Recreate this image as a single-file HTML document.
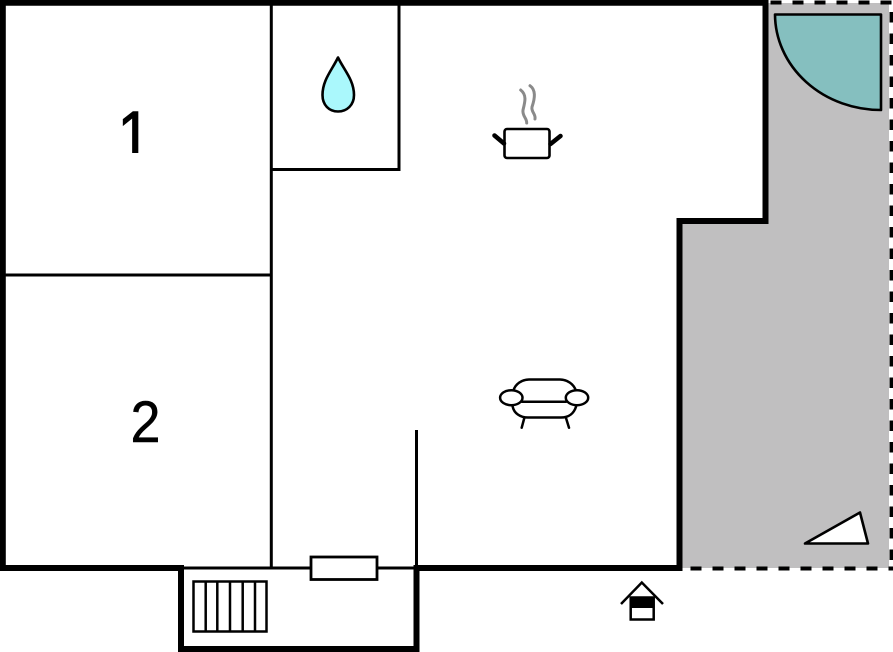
<!DOCTYPE html>
<html>
<head>
<meta charset="utf-8">
<style>
html,body{margin:0;padding:0;background:#fff}
svg{display:block}
</style>
</head>
<body>
<svg width="893" height="652" viewBox="0 0 893 652" xmlns="http://www.w3.org/2000/svg">
  <defs>
    <clipPath id="footclip"><rect x="100" y="100" width="60" height="53"/></clipPath>
  </defs>
  <rect width="893" height="652" fill="#fff"/>
  <!-- terrace -->
  <polygon points="767,3 889,3 889,568 681,568 681,222 767,222" fill="#c0bfc0"/>
  <!-- dashed edge -->
  <g fill="none" stroke="#000">
    <path d="M770.500,2.500H893" stroke-dasharray="11 11" stroke-width="4"/>
    <path d="M891.500,12V569" stroke-dasharray="10.500 11" stroke-width="4"/>
    <path d="M690.500,568.500H893" stroke-dasharray="11 11" stroke-width="4"/>
  </g>
  <!-- door quarter-circle -->
  <path d="M775,14.500H881V110A106,96 0 0 1 775,14.500Z" fill="#85bfbf" stroke="#000" stroke-width="2.600" stroke-linejoin="round"/>
  <!-- inner walls -->
  <g fill="none" stroke="#000" stroke-width="3">
    <path d="M271.300,3V568"/>
    <path d="M3,275H271"/>
    <path d="M399,3V169.500H271"/>
    <path d="M416.500,430V568"/>
    <path d="M181,568H416"/>
  </g>
  <!-- outer walls -->
  <path d="M2.800,2.800H765.500V221H679.500V568H416.500V649H181V568H2.800Z" fill="none" stroke="#000" stroke-width="6" stroke-linejoin="miter"/>
  <!-- room numbers -->
  <g clip-path="url(#footclip)">
    <text transform="translate(117.500,159) scale(1,1.150)" font-family="Liberation Sans, sans-serif" font-size="60" fill="#000" stroke="#000" stroke-width="0.900">1</text>
  </g>
  <text transform="translate(130.500,442) scale(0.930,1)" font-family="Liberation Sans, sans-serif" font-size="58" fill="#000" stroke="#000" stroke-width="0.500">2</text>
  <!-- water drop -->
  <path d="M338,57.500C332,70 322.500,80 322.500,95C322.500,105 329,111.500 338,111.500C347,111.500 354,105 354,95C354,80 344,70 338,57.500Z" fill="#aaf8fc" stroke="#000" stroke-width="2.600" stroke-linejoin="round"/>
  <!-- pot -->
  <g fill="none" stroke-linecap="round">
    <path d="M520.700,90C527,95 525,102 523,110C522,116 527,118 526.700,123" stroke="#8a8a8a" stroke-width="3"/>
    <path d="M530,85.700C536,90 535,98 532,107C531,112 536,114 535,119" stroke="#8a8a8a" stroke-width="3"/>
    <rect x="504.500" y="129" width="45" height="29" rx="2.500" fill="#fff" stroke="#000" stroke-width="2.600"/>
    <path d="M494.500,135.500L504,143.500M560.500,136L550.500,144" stroke="#000" stroke-width="4.500"/>
  </g>
  <!-- armchair -->
  <g fill="#fff" stroke="#000" stroke-width="2.500" stroke-linecap="round">
    <path d="M513.300,391C515,384 522,379.500 529,379.500H560C567,379.500 574,384 576,391" fill="none"/>
    <path d="M512.700,406.700C514,413 520,417.500 528,417.500H561C569,417.500 574,413 576,406.700" fill="none"/>
    <path d="M524.300,418L521.700,427.700M566,418L569,427.700" fill="none"/>
    <path d="M522,401.700H566" fill="none"/>
    <ellipse cx="511.300" cy="397.700" rx="11.200" ry="7.500"/>
    <ellipse cx="577" cy="397.700" rx="11.200" ry="7.500"/>
  </g>
  <!-- window -->
  <rect x="311" y="557" width="66" height="22.500" fill="#fff" stroke="#000" stroke-width="2.800"/>
  <!-- stairs -->
  <g fill="none" stroke="#000" stroke-width="2.500">
    <rect x="193.500" y="581.500" width="73" height="50"/>
    <path d="M205.700,581V632M217.300,581V632M230,581V632M242.700,581V632M255,581V632"/>
  </g>
  <!-- triangle -->
  <polygon points="805,543.500 860,512.500 868,543.500" fill="#fff" stroke="#000" stroke-width="2.600" stroke-linejoin="round"/>
  <!-- entrance house -->
  <path d="M621,604L641.800,582.500L663,604" fill="none" stroke="#000" stroke-width="2.500"/>
  <rect x="630.700" y="597.500" width="23" height="22" fill="#fff" stroke="#000" stroke-width="2.500"/>
  <rect x="630" y="597" width="24" height="11" fill="#000"/>
</svg>
</body>
</html>
